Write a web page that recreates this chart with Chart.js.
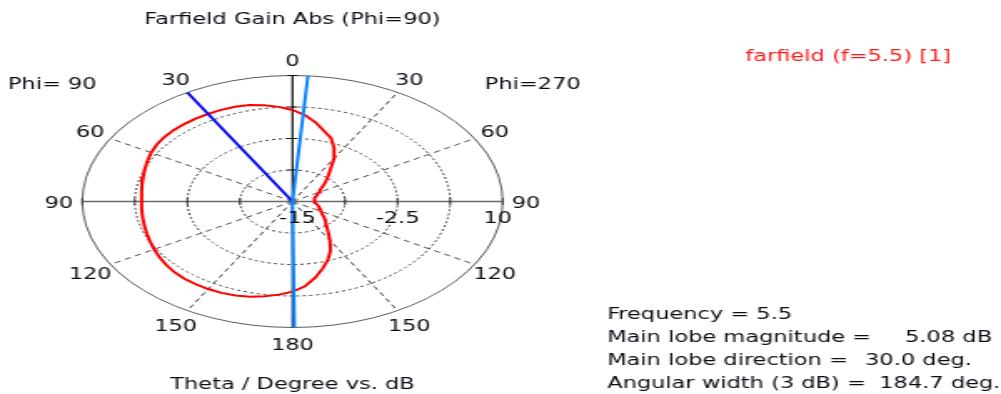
<!DOCTYPE html>
<html>
<head>
<meta charset="utf-8">
<script src="https://cdn.jsdelivr.net/npm/chart.js@4"></script>
<style>
  html, body { margin: 0; padding: 0; background: #fff; overflow: hidden; }
  /* the polar plot is drawn round and then widened to the window width */
  #wrap { position: absolute; left: 0; top: 0; width: 600px; height: 394px;
          transform: scaleX(1.668333); transform-origin: 0 0; }
</style>
</head>
<body>
<div id="wrap"><canvas id="c"></canvas></div>
<script>
// Farfield gain (dB) versus theta, Phi=90 half (left side of the plot)
const thetaPhi90 = [0, 5, 10, 15, 20, 25, 30, 35, 40, 45, 50, 55, 60, 65, 70, 75, 80, 85, 90,
                    95, 100, 105, 110, 115, 120, 125, 130, 135, 140, 145, 150, 155, 160, 165, 170, 175, 180];
const gainPhi90 = [3.15, 3.85, 4.4, 4.8, 5.0, 5.06, 5.08, 5.07, 5.05, 5.0, 4.9, 4.7, 4.4, 4.05, 3.7, 3.4, 3.18, 3.02, 2.95,
                   3.0, 3.1, 3.25, 3.45, 3.7, 4.0, 4.3, 4.6, 4.85, 5.0, 5.04, 5.05, 5.0, 4.85, 4.55, 4.1, 3.55, 2.9];

// Phi=270 half (right side of the plot)
const thetaPhi270 = [0, 5, 10, 15, 20, 25, 30, 35, 40, 45, 50, 55, 60, 65, 70, 75, 80, 85, 90,
                     95, 100, 105, 110, 115, 120, 125, 130, 135, 140, 145, 150, 155, 160, 165, 170, 175, 180];
const gainPhi270 = [3.15, 2.2, 0.9, -0.5, -1.6, -3.3, -5.1, -7.1, -8.4, -9.4, -10.3, -11.0, -11.4, -11.75, -12.0, -12.2, -12.3, -12.4, -12.45,
                    -12.3, -12.1, -11.85, -11.6, -11.35, -11.1, -10.7, -10.1, -9.4, -8.7, -7.6, -6.1, -4.3, -2.7, -1.2, 0.4, 1.9, 2.9];

// radial (dB) axis
const radialTicks = [-15, -2.5, 10];
const gridRings = [-8.75, -2.5, 3.75, 10];
// theta grid
const spokeAngles = [30, 60, 120, 150];
const angleLabels = [0, 30, 60, 90, 120, 150, 180];

// summary values
const frequency = 5.5;
const mainLobeMagnitude = 5.08;
const mainLobeDirection = 30;      // on the Phi=90 half
const angularWidth = 184.7;
// 3 dB beam edges; negative angles lie on the Phi=270 half
const beamEdges = [-4.2, 180.5];

const gMin = radialTicks[0], gMax = radialTicks[radialTicks.length - 1];
const norm = g => Math.max(0, (g - gMin) / (gMax - gMin));
// signed theta: positive -> Phi=90 (left), negative -> Phi=270 (right)
function toXY(theta, gain) {
  const r = norm(gain), a = theta * Math.PI / 180;
  return { x: -r * Math.sin(a), y: r * Math.cos(a) };
}

const curve = [];
thetaPhi90.forEach((t, i) => curve.push(toXY(t, gainPhi90[i])));
for (let i = thetaPhi270.length - 1; i >= 0; i--) curve.push(toXY(-thetaPhi270[i], gainPhi270[i]));

const mainLobeLine = [toXY(0, gMin), toXY(mainLobeDirection, gMax)];
const beamLine = [toXY(beamEdges[0], gMax), toXY(0, gMin), toXY(beamEdges[1], gMax)];

const FONT = '15px "DejaVu Sans Condensed", "DejaVu Sans", sans-serif';
const TEXT = '#0c0c14';
const TY = 2.5;   // optical centring of the text glyphs

const polarGrid = {
  id: 'polarGrid',
  beforeDatasetsDraw(chart) {
    const { ctx, scales: { x: sx, y: sy } } = chart;
    const cx = sx.getPixelForValue(0), cy = sy.getPixelForValue(0);
    const Rx = sx.getPixelForValue(1) - cx, Ry = cy - sy.getPixelForValue(1);
    const px = p => [sx.getPixelForValue(p.x), sy.getPixelForValue(p.y)];
    ctx.save();
    // spokes
    ctx.strokeStyle = '#4a4a4a'; ctx.lineWidth = 1; ctx.setLineDash([4, 3]);
    spokeAngles.forEach(a => [a, -a].forEach(t => {
      const [x, y] = px(toXY(t, gMax));
      ctx.beginPath(); ctx.moveTo(cx, cy); ctx.lineTo(x, y); ctx.stroke();
    }));
    // rings
    gridRings.forEach((g, i) => {
      const r = norm(g);
      const outer = i === gridRings.length - 1;
      ctx.setLineDash(outer ? [] : [2, 2]);
      ctx.strokeStyle = outer ? '#5a5a5a' : '#3a3a3a';
      ctx.lineWidth = 1;
      ctx.beginPath(); ctx.ellipse(cx, cy, r * Rx, r * Ry, 0, 0, Math.PI * 2); ctx.stroke();
    });
    ctx.setLineDash([]);
    // horizontal axis
    ctx.strokeStyle = '#6a6a6a'; ctx.lineWidth = 1.6;
    ctx.beginPath(); ctx.moveTo(cx - Rx, cy); ctx.lineTo(cx + Rx, cy); ctx.stroke();
    // vertical axis
    ctx.strokeStyle = '#111'; ctx.lineWidth = 1.2;
    ctx.beginPath(); ctx.moveTo(cx, cy - Ry); ctx.lineTo(cx, cy + Ry); ctx.stroke();
    // ticks where the rings cross the axes
    gridRings.forEach(g => {
      const r = norm(g);
      ctx.strokeStyle = '#3a3a3a'; ctx.lineWidth = 1;
      [-1, 1].forEach(s => {
        ctx.beginPath(); ctx.moveTo(cx + s * r * Rx, cy - 3.5); ctx.lineTo(cx + s * r * Rx, cy + 3.5); ctx.stroke();
      });
      ctx.strokeStyle = '#111';
      ctx.beginPath(); ctx.moveTo(cx - 3, cy - r * Ry); ctx.lineTo(cx + 3, cy - r * Ry); ctx.stroke();
    });
    ctx.restore();
  },
  afterDraw(chart) {
    const { ctx, scales: { x: sx, y: sy } } = chart;
    const cx = sx.getPixelForValue(0), cy = sy.getPixelForValue(0);
    const Rx = sx.getPixelForValue(1) - cx, Ry = cy - sy.getPixelForValue(1);
    ctx.save();
    ctx.font = FONT; ctx.fillStyle = TEXT;
    ctx.textAlign = 'center'; ctx.textBaseline = 'middle';
    // title and axis caption
    ctx.fillText('Farfield Gain Abs (Phi=90)', cx, 18 + TY);
    ctx.fillText('Theta / Degree vs. dB', cx, 383 + TY);
    // theta labels on both halves
    const offX = Rx + 14, offY = Ry + 16;
    angleLabels.forEach(a => {
      const sides = (a === 0 || a === 180) ? [a] : [a, -a];
      sides.forEach(t => {
        const r = t * Math.PI / 180;
        ctx.fillText(String(Math.abs(t)), cx - offX * Math.sin(r), cy - offY * Math.cos(r) + TY);
      });
    });
    ctx.fillText('Phi= 90', cx - 144, 83 + TY);
    ctx.fillText('Phi=270', cx + 144, 83 + TY);
    // dB labels along the horizontal axis
    radialTicks.forEach((g, i) => {
      let x = cx + norm(g) * Rx;
      if (i === 0) x += 3;
      if (i === radialTicks.length - 1) x -= 3;
      ctx.fillText(String(g), x, cy + 15.5 + TY);
    });
    // series label
    ctx.fillStyle = '#ff1a1a';
    ctx.fillText(`farfield (f=${frequency}) [1]`, 508.4, 55 + TY);
    // summary block
    ctx.fillStyle = TEXT; ctx.textAlign = 'left';
    const x0 = 363.9;
    ctx.fillText(`Frequency = ${frequency}`, x0, 313 + TY);
    ctx.fillText('Main lobe magnitude =', x0, 336 + TY);
    ctx.fillText(`${mainLobeMagnitude.toFixed(2)} dB`, 542.5, 336 + TY);
    ctx.fillText('Main lobe direction =', x0, 359 + TY);
    ctx.fillText(`${mainLobeDirection.toFixed(1)} deg.`, 518.5, 359 + TY);
    ctx.fillText('Angular width (3 dB) =', x0, 382 + TY);
    ctx.fillText(`${angularWidth.toFixed(1)} deg.`, 527.0, 382 + TY);
    ctx.restore();
  }
};

new Chart(document.getElementById('c'), {
  type: 'scatter',
  data: {
    datasets: [
      { data: curve, showLine: true, borderColor: '#ff0000', borderWidth: 2, pointRadius: 0, tension: 0, clip: false, order: 3 },
      { data: mainLobeLine, showLine: true, borderColor: '#0a0af5', borderWidth: 2, pointRadius: 0, clip: false, order: 2 },
      { data: beamLine, showLine: true, borderColor: '#0a84ff', borderWidth: 2, pointRadius: 0, clip: false, order: 1 }
    ]
  },
  options: {
    responsive: true,
    maintainAspectRatio: false,
    animation: false,
    events: [],
    layout: { padding: { left: 49.32, right: 298.68, top: 75.5, bottom: 66.5 } },
    scales: {
      x: { type: 'linear', min: -1, max: 1, display: false },
      y: { type: 'linear', min: -1, max: 1, display: false }
    },
    plugins: { legend: { display: false }, title: { display: false }, tooltip: { enabled: false } }
  },
  plugins: [polarGrid]
});
</script>
</body>
</html>
